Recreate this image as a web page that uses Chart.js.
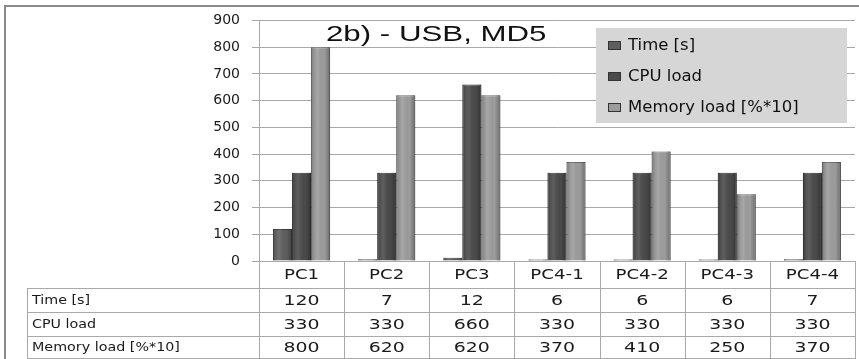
<!DOCTYPE html>
<html>
<head>
<meta charset="utf-8">
<script src="https://cdn.jsdelivr.net/npm/chart.js@4"></script>
<style>
  html, body { margin: 0; padding: 0; background: #fff; }
  #wrap { width: 859px; height: 359px; position: relative; }
</style>
</head>
<body>
<div id="wrap"><canvas id="chart"></canvas></div>
<script>
var categories   = ["PC1", "PC2", "PC3", "PC4-1", "PC4-2", "PC4-3", "PC4-4"];
var timeValues   = [120, 7, 12, 6, 6, 6, 7];
var cpuValues    = [330, 330, 660, 330, 330, 330, 330];
var memoryValues = [800, 620, 620, 370, 410, 250, 370];
var seriesLabels = ["Time [s]", "CPU load", "Memory load [%*10]"];
var chartTitle   = "2b) - USB, MD5";

var seriesColors = ["#5e5e5e", "#4a4a4a", "#9c9c9c"];
var lineColor = "#a9a9a9";

// the original picture is squeezed vertically, so its text looks wide
function wideText(ctx, text, x, y, sx, align)
{
    ctx.save();
    ctx.translate(x, y);
    ctx.scale(sx, 1);
    ctx.textAlign = align;
    ctx.fillText(text, 0, 0);
    ctx.restore();
}

// frame, title, legend box and the data table under the axis
var tablePlugin = {
    id: "dataTable",
    beforeDraw: function(chart)
    {
        var ctx = chart.ctx;
        ctx.save();
        ctx.fillStyle = "#fff";
        ctx.fillRect(0, 0, chart.width, chart.height);
        ctx.strokeStyle = "#8a8a8a";
        ctx.lineWidth = 2;
        ctx.beginPath();
        ctx.moveTo(5, chart.height);
        ctx.lineTo(5, 6);
        ctx.lineTo(chart.width, 6);
        ctx.stroke();
        ctx.restore();
    },
    afterDatasetsDraw: function(chart)
    {
        // cylinder-ish shading over each bar
        var ctx = chart.ctx;
        ctx.save();
        chart.data.datasets.forEach(function(ds, i) {
            chart.getDatasetMeta(i).data.forEach(function(bar) {
                var p = bar.getProps(["x", "y", "base", "width"], true);
                var l = p.x - p.width / 2;
                var g = ctx.createLinearGradient(l, 0, l + p.width, 0);
                g.addColorStop(0, "rgba(0,0,0,0.25)");
                g.addColorStop(0.35, "rgba(255,255,255,0.10)");
                g.addColorStop(0.7, "rgba(0,0,0,0)");
                g.addColorStop(1, "rgba(0,0,0,0.3)");
                ctx.fillStyle = g;
                ctx.fillRect(l, p.y, p.width, p.base - p.y);
            });
        });
        ctx.restore();
    },
    afterDraw: function(chart)
    {
        var ctx = chart.ctx;
        var area = chart.chartArea;
        var x = chart.scales.x;
        var step = (area.right - area.left) / categories.length;
        var rowTop = [area.bottom, 288, 312, 336, chart.height - 1];
        var tableLeft = 27;

        ctx.save();
        ctx.strokeStyle = lineColor;
        ctx.lineWidth = 1;
        ctx.beginPath();
        // horizontal rules
        ctx.moveTo(area.left, rowTop[0] + 0.5); ctx.lineTo(area.right, rowTop[0] + 0.5);
        for (var r = 1; r < rowTop.length; r++) {
            ctx.moveTo(tableLeft, rowTop[r] + 0.5);
            ctx.lineTo(area.right, rowTop[r] + 0.5);
        }
        // vertical rules
        for (var c = 0; c <= categories.length; c++) {
            var vx = Math.round(area.left + c * step) + 0.5;
            ctx.moveTo(vx, rowTop[0]);
            ctx.lineTo(vx, chart.height);
        }
        ctx.moveTo(tableLeft + 0.5, rowTop[1]);
        ctx.lineTo(tableLeft + 0.5, chart.height);
        ctx.stroke();

        // category row and table text
        ctx.fillStyle = "#1a1a1a";
        ctx.textBaseline = "middle";
        ctx.font = "14px 'DejaVu Sans'";
        categories.forEach(function(cat, j) {
            wideText(ctx, cat, x.getPixelForValue(j), (rowTop[0] + rowTop[1]) / 2 + 1, 1.3, "center");
        });
        chart.data.datasets.forEach(function(ds, i) {
            var cy = (rowTop[i + 1] + rowTop[i + 2]) / 2 + 1;
            ctx.font = "13px 'DejaVu Sans'";
            wideText(ctx, ds.label, 32, cy, 1.1, "left");
            ctx.font = "14px 'DejaVu Sans'";
            ds.data.forEach(function(v, j) {
                wideText(ctx, String(v), x.getPixelForValue(j), cy, 1.35, "center");
            });
        });

        // title
        ctx.fillStyle = "#111";
        ctx.font = "22px 'Liberation Sans'";
        ctx.textBaseline = "alphabetic";
        wideText(ctx, chartTitle, 326, 41, 1.42, "left");

        // legend box
        var lx = 596, ly = 28, lw = 251, lh = 95;
        ctx.fillStyle = "#d6d6d6";
        ctx.fillRect(lx, ly, lw, lh);
        ctx.font = "15px 'DejaVu Sans'";
        ctx.textBaseline = "middle";
        chart.data.datasets.forEach(function(ds, i) {
            var cy = 45 + i * 31;
            ctx.fillStyle = ds.backgroundColor;
            ctx.fillRect(608, cy - 4, 13, 9);
            ctx.strokeStyle = "#333";
            ctx.strokeRect(608.5, cy - 3.5, 12, 8);
            ctx.fillStyle = "#111";
            wideText(ctx, ds.label, 628, cy + 1, 1.1, "left");
        });
        ctx.restore();
    }
};

new Chart(document.getElementById("chart"), {
    type: "bar",
    data: {
        labels: categories,
        datasets: [
            { label: seriesLabels[0], data: timeValues,   backgroundColor: seriesColors[0], borderColor: "#3a3a3a", borderWidth: 1 },
            { label: seriesLabels[1], data: cpuValues,    backgroundColor: seriesColors[1], borderColor: "#2e2e2e", borderWidth: 1 },
            { label: seriesLabels[2], data: memoryValues, backgroundColor: seriesColors[2], borderColor: "#6a6a6a", borderWidth: 1 }
        ]
    },
    options: {
        responsive: true,
        maintainAspectRatio: false,
        animation: false,
        layout: { padding: { top: 15, right: 4, left: 0, bottom: 0 } },
        datasets: { bar: { categoryPercentage: 0.67, barPercentage: 1.0 } },
        plugins: {
            legend: { display: false },
            title: { display: false },
            tooltip: { enabled: false }
        },
        scales: {
            x: {
                afterFit: function(scale) { scale.height = 98; },
                grid: { display: false, drawTicks: false },
                border: { color: lineColor },
                ticks: { display: false }
            },
            y: {
                min: 0,
                max: 900,
                afterFit: function(scale) { scale.width = 259; },
                grid: { color: lineColor, tickLength: 7 },
                border: { color: lineColor },
                ticks: { stepSize: 100, padding: 12, color: "#1a1a1a", font: { family: "DejaVu Sans", size: 14 } }
            }
        }
    },
    plugins: [tablePlugin]
});
</script>
</body>
</html>
